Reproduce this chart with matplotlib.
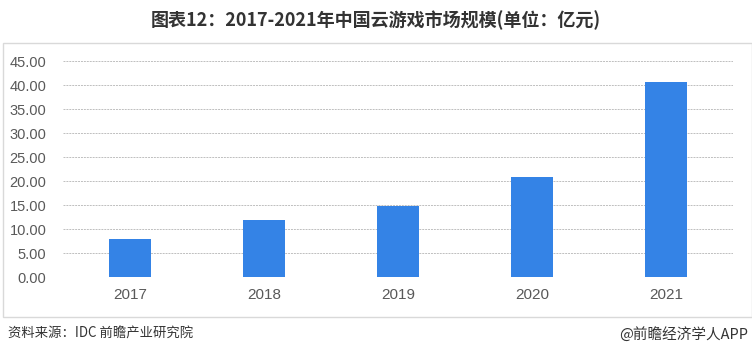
import matplotlib
matplotlib.use("Agg")
import matplotlib.pyplot as plt
from matplotlib.patches import Rectangle

plt.rcParams['font.family'] = ['Noto Sans CJK SC', 'DejaVu Sans']

years = ["2017", "2018", "2019", "2020", "2021"]
values = [8.0, 11.9, 14.9, 21.0, 40.6]
yticks = [0, 5, 10, 15, 20, 25, 30, 35, 40, 45]

title = "图表12：2017-2021年中国云游戏市场规模(单位：亿元)"
source = "资料来源：IDC 前瞻产业研究院"
credit = "@前瞻经济学人APP"

W, H = 752, 357
fig = plt.figure(figsize=(W / 100, H / 100), dpi=100)
fig.patch.set_facecolor("white")

# outer frame
fig.add_artist(Rectangle((3 / W, 1 - 317 / H), (W - 3) / W, (317 - 43) / H,
                         transform=fig.transFigure, fill=False,
                         edgecolor="#d9d9d9", linewidth=1.0))

ax = fig.add_axes([63 / W, 1 - 277.3 / H, (733 - 63) / W, (277.3 - 61.3) / H])
x = range(len(years))
ax.bar(x, values, width=0.31, color="#3483e6", zorder=3)
ax.set_xlim(-0.5, len(years) - 0.5)
ax.set_ylim(0, 45)
ax.set_yticks(yticks)
ax.set_yticklabels([f"{v:.2f}" for v in yticks], fontfamily="Liberation Sans",
                   fontsize=10.5, color="#595959")
ax.set_xticks(list(x))
ax.set_xticklabels(years, fontfamily=["Liberation Sans Narrow", "Liberation Sans"],
                   fontsize=11, color="#595959")
ax.tick_params(axis="both", length=0)
ax.tick_params(axis="y", pad=12)
ax.tick_params(axis="x", pad=8)
ax.grid(axis="y", color="#bfbfbf", linestyle=(0, (2, 1)), linewidth=0.7, zorder=0)
for s in ax.spines.values():
    s.set_visible(False)

fig.text(0.5, 1 - 20 / H, title, ha="center", va="center", fontsize=13,
         fontweight="bold", color="#333333")
fig.text(8 / W, 1 - 334 / H, source, ha="left", va="center", fontsize=9.6,
         color="#333333")
fig.text(748 / W, 1 - 334 / H, credit, ha="right", va="center", fontsize=10.5,
         color="#333333")

fig.savefig("out.png", dpi=100)
